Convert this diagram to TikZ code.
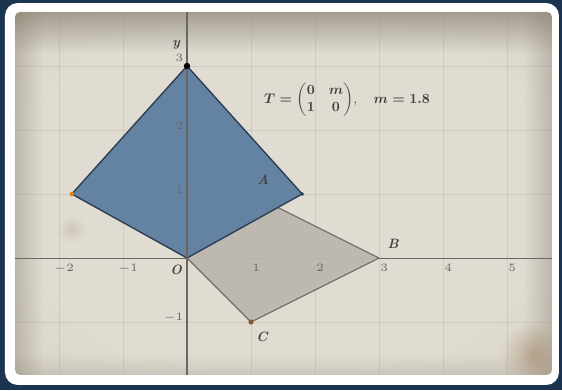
\documentclass[tikz,border=0pt]{standalone}
\usepackage{amsmath}
\usetikzlibrary{calc,fadings}
\definecolor{bgnavy}{HTML}{1B3550}
\definecolor{paper}{HTML}{E0DCD2}
\definecolor{papermid}{HTML}{D3CDC1}
\definecolor{paperdark}{HTML}{B3AA99}
\definecolor{edgebrown}{HTML}{7E7565}
\definecolor{kitefill}{HTML}{6482A1}
\definecolor{kiteedge}{HTML}{2C3D52}
\definecolor{parfill}{HTML}{BDB8AF}
\definecolor{paredge}{HTML}{716B62}
\definecolor{ink}{HTML}{45423C}
\definecolor{gridc}{HTML}{8F8A80}
\pgfdeclareradialshading{parchment}{\pgfpoint{0bp}{0bp}}{%
  color(0bp)=(paper); color(25bp)=(paper); color(45bp)=(papermid);
  color(65bp)=(paperdark); color(75bp)=(paperdark)}
\tikzfading[name=fadetop, top color=transparent!0, bottom color=transparent!100]
\tikzfading[name=fadebot, top color=transparent!100, bottom color=transparent!0]
\tikzfading[name=fadeleft, left color=transparent!0, right color=transparent!100]
\tikzfading[name=faderight, left color=transparent!100, right color=transparent!0]
\tikzfading[name=fuzzy, inner color=transparent!0, outer color=transparent!100]
\tikzset{
  axis/.style={draw=ink!80, line width=0.45pt},
  gridline/.style={draw=gridc, line width=0.3pt, opacity=0.2},
  tick/.style={font=\fontsize{4.5}{5}\selectfont, text=ink!80, inner sep=0pt},
  lbl/.style={font=\fontsize{6}{7}\selectfont\itshape\bfseries, text=ink, inner sep=0pt},
  kite/.style={fill=kitefill, draw=kiteedge, line width=0.6pt, line join=round},
  para/.style={fill=parfill, fill opacity=0.95, draw=paredge, line width=0.5pt, line join=round},
  vdot/.style={fill=#1, draw=none},
  stain/.style={fill=#1, path fading=fuzzy},
  band/.style={fill=edgebrown, path fading=#1},
}
\begin{document}
\begin{tikzpicture}[x=1cm,y=1cm]
% bounding box and background
\useasboundingbox (-2.921875,-2.0625) rectangle (5.859375,4.03125);
\fill[bgnavy] (-2.921875,-2.0625) rectangle (5.859375,4.03125);
\fill[white, rounded corners=0.2cm] (-2.844,-1.984) rectangle (5.8125,3.984);
\shade[rounded corners=0.08cm, shading=parchment]
  (-2.6875,-1.828) rectangle (5.703,3.844);
% edge darkening
\begin{scope}
\clip[rounded corners=0.08cm] (-2.6875,-1.828) rectangle (5.703,3.844);
\fill[band=fadetop, opacity=0.6] (-2.6875,3.2) rectangle (5.703,3.844);
\fill[band=fadeleft, opacity=0.35] (-2.6875,-1.828) rectangle (-2.25,3.844);
\fill[band=faderight, opacity=0.35] (5.25,-1.828) rectangle (5.703,3.844);
\fill[band=fadebot, opacity=0.2] (-2.6875,-1.828) rectangle (5.703,-1.5);
% stains
\fill[stain=brown!70!black, opacity=0.35] (5.4,-1.5) circle (0.5);
\fill[stain=brown!60!black, opacity=0.15] (-1.8,0.45) circle (0.22);
% grid
\foreach \g in {-2,-1,1,2,3,4,5} \draw[gridline] (\g,-1.828) -- (\g,3.844);
\foreach \g in {-1,1,2,3} \draw[gridline] (-2.6875,\g) -- (5.703,\g);
\end{scope}
% axes
\coordinate (xl) at (-2.6875,0);
\coordinate (xr) at (5.703,0);
\coordinate (yb) at (0,-1.828);
\coordinate (yt) at (0,3.844);
\draw[axis] (xl) -- (xr);
% vertices
\coordinate (O) at (0,0);
\coordinate (A) at (1,1);
\coordinate (B) at (3,0);
\coordinate (C) at (1,-1);
\coordinate (TA) at (1.8,1);
\coordinate (TB) at (0,3);
\coordinate (TC) at (-1.8,1);
% parallelogram OABC
\draw[para] (O) -- (A) -- (B) -- (C) -- cycle;
% image kite
\draw[kite] (O) -- (TA) -- (TB) -- (TC) -- cycle;
% y axis over the shapes
\draw[axis] (yb) -- (yt);
% tick labels
\foreach \g in {-2,-1,1,2,3,4,5} \node[tick] (tx\g) at (\g+0.08,-0.16) {$\g$};
\foreach \g in {-1,1,2} \node[tick, anchor=east] (ty\g) at (-0.05,\g+0.07) {$\g$};
\node[tick, anchor=east] (ty3) at (-0.05,3.12) {$3$};
% vertex dots
\fill[vdot=black] (TB) circle (0.05);
\fill[vdot=orange!60!brown] (TC) circle (0.035);
\fill[vdot=kiteedge] (TA) circle (0.03);
\fill[vdot=brown!70!black] (C) circle (0.04);
% labels
\node[lbl] (lA) at ($(A)+(0.19,0.22)$) {A};
\node[lbl] (lB) at ($(B)+(0.22,0.22)$) {B};
\node[lbl] (lC) at ($(C)+(0.17,-0.23)$) {C};
\node[lbl] (lO) at ($(O)+(-0.17,-0.19)$) {O};
\node[lbl] (ly) at (-0.17,3.33) {y};
% formula
\node[text=ink, inner sep=0pt, scale=0.62] (form) at (2.5,2.47)
  {$\boldsymbol{T=\begin{pmatrix}0 & m\\ 1 & 0\end{pmatrix}},\quad \boldsymbol{m=1.8}$};
\end{tikzpicture}
\end{document}
